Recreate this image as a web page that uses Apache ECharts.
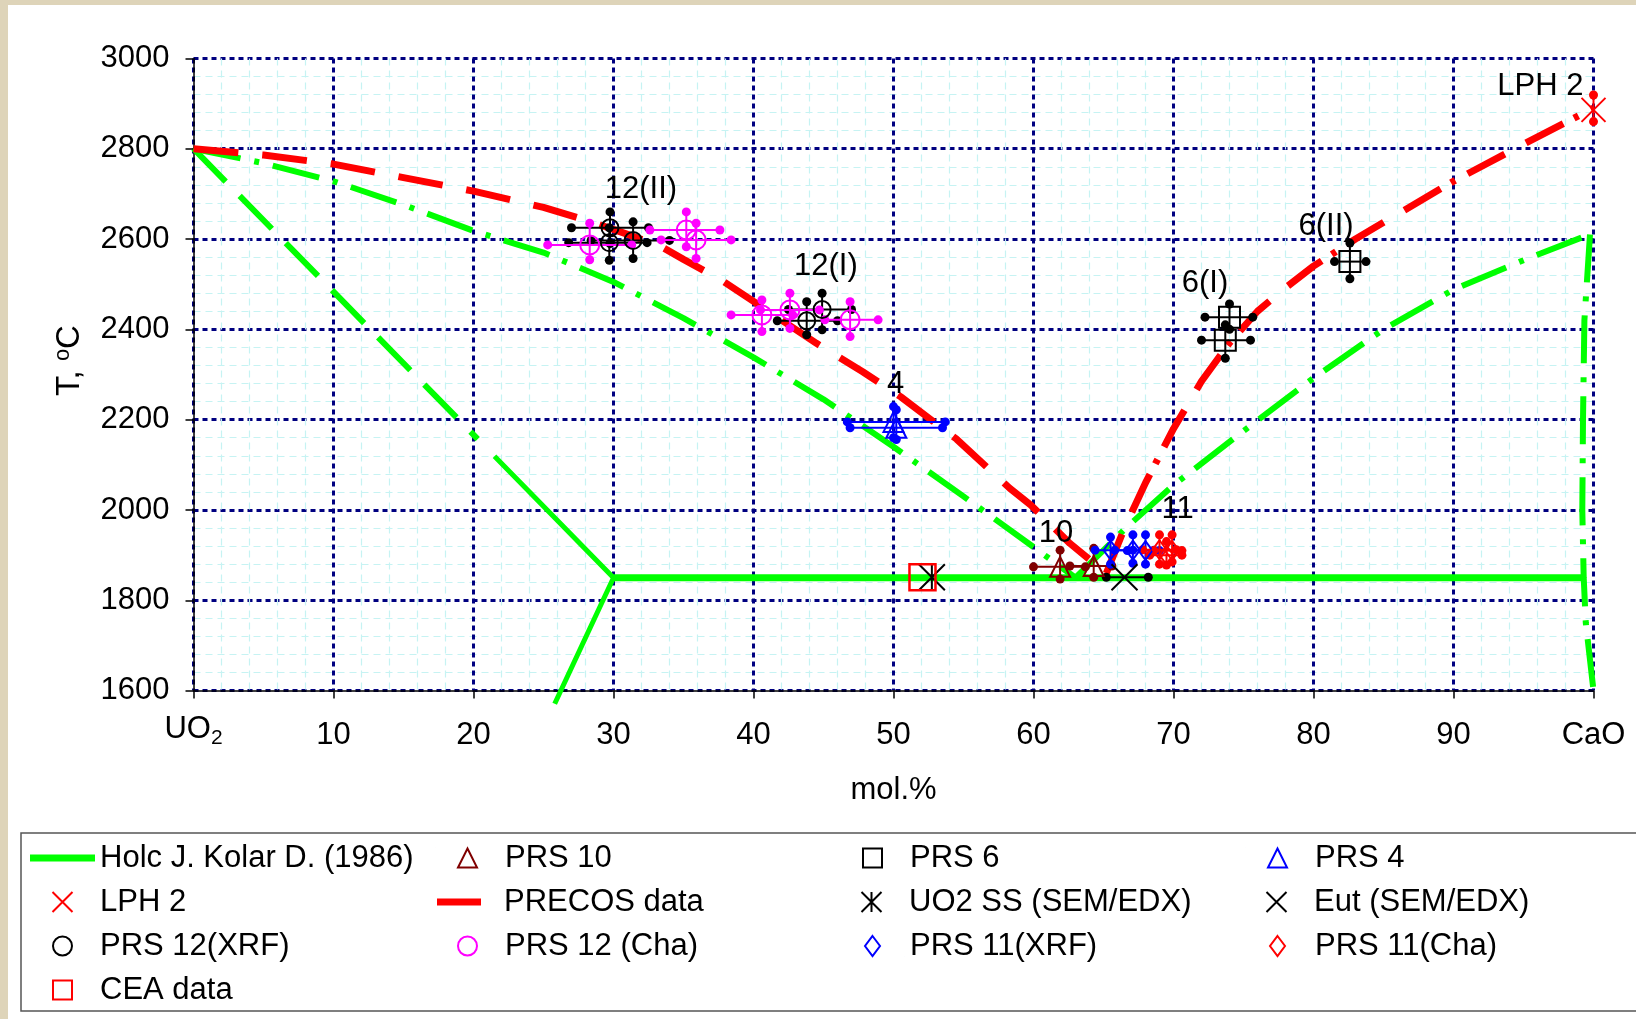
<!DOCTYPE html>
<html><head><meta charset="utf-8">
<script src="https://cdn.jsdelivr.net/npm/echarts@6/dist/echarts.min.js"></script>
<style>html,body{margin:0;padding:0;background:#fff}#c{width:1636px;height:1019px}</style>
</head><body><div id="c"></div><script>
// ---------- tick labels ----------
const xTickValues = [0,10,20,30,40,50,60,70,80,90,100];
const xTickLabels = ['{m|UO}{s|2}','10','20','30','40','50','60','70','80','90','CaO'];

// ---------- Holc J. Kolar D. (1986) green lines [x, T] ----------
const holcEutectic = [[30,1850],[99.2,1850]];
const holcSolidusDashed = [[0,2800],[20.3,2157]];
const holcSolidusSolid = [[21.5,2119],[30,1850],[25.8,1571]];
const holcLiquidusLeft = [[0,2800],[5,2768],[10,2728],[15,2676],[20,2618],[25,2570],[30,2505],[35,2425],[40,2338],[45,2245],[50,2140],[55,2030],[60,1918],[63,1850]];
const holcLiquidusRight = [[63,1850],[66.7,1963],[70,2055],[75,2175],[80,2292],[85,2400],[90,2488],[95,2553],[99.7,2610]];
const holcCaO = [[99.75,2610],[99.35,2420],[99.25,2200],[99.2,2000],[99.3,1850],[99.45,1750],[100,1600]];

// ---------- PRECOS data red lines [x, T] ----------
const precosLeft = [[0,2800],[5,2786],[10,2766],[15,2736],[20,2706],[25,2670],[28,2642],[30.3,2618],[33.3,2585],[35,2555],[37.7,2509],[40,2462],[44.5,2369],[47.8,2306],[50.5,2251],[54.5,2157],[58.3,2048],[59.8,2011],[62.6,1926],[65.2,1860]];
const precosRight = [[65.2,1860],[66.5,1960],[68,2060],[70,2180],[72,2285],[74,2370],[76,2440],[78,2492],[80,2540],[83,2600],[86,2655],[90,2728],[95,2810],[100,2890]];

// ---------- points: [x, T, xLow, xHigh, TLow, THigh] ----------
const prs10 = [[61.9,1874,60.0,63.7,1847,1911],[64.3,1876,62.6,65.6,1851,1915]];
const prs6 = [[74.0,2427,72.25,75.66,2400,2456],[73.7,2376,72.0,75.5,2336,2410],[82.6,2550,81.5,83.75,2512,2591]];
const prs4 = [[50.0,2195,46.7,53.7,2160,2229],[50.2,2182,46.9,53.5,2156,2222]];
const lph2 = [[100,2886,100,100,2860,2919]];
const uo2ss = [[52.74,1851,52.74,52.74,1851,1851]];
const eut = [[66.5,1851,65.2,68.2,1851,1851]];
const prs12xrf = [[29.75,2625,27.0,32.5,2590,2660],[29.7,2592,26.8,32.4,2553,2625],[31.4,2597,28.4,34.0,2557,2638],[43.8,2419,41.7,46.0,2388,2461],[44.9,2444,42.5,47.0,2399,2480]];
const prs12cha = [[28.3,2587,25.3,31.3,2554,2635],[35.2,2620,32.6,37.6,2583,2660],[35.9,2598,33.4,38.4,2557,2635],[40.6,2432,38.4,42.8,2395,2465],[42.6,2443,40.5,44.7,2402,2480],[46.9,2421,45.1,48.9,2384,2461]];
const prs11xrf = [[65.5,1911,64.4,67.1,1880,1940],[67.1,1911,65.8,68.6,1882,1945],[68.0,1910,66.7,69.0,1880,1945]];
const prs11cha = [[69.0,1912,67.8,70.2,1880,1945],[69.5,1900,68.3,70.6,1878,1930],[69.9,1910,68.6,70.6,1885,1945]];
const cea = [[52.07,1851,52.07,52.07,1851,1851]];

// ---------- text labels ----------
const labelText = ['12(II)','12(I)','4','10','11','6(I)','6(II)','LPH 2'];
const labelX = [31.96,45.17,50.16,61.6,70.3,72.25,80.9,96.2];
const labelT = [2710,2539,2279,1949,2002,2502,2627,2937];

// ---------- styles ----------
const FONT = 'Liberation Sans, Arial, sans-serif';
const GREEN = '#00ff00', RED = '#ff0000', BROWN = '#800000', BLUE = '#0000ff', MAG = '#ff00ff', BLACK = '#000000';
const DASH_DOT = [48,14,5,14];
const X_PATH = 'path://M0,0L20,20M20,0L0,20';
const STAR_PATH = 'path://M0,0L20,20M20,0L0,20M10,0L10,20';

// legend icons: every icon spans the full 65x21 box (corner anchors) so columns line up
const BOX = 'M0,0L0.01,0M65,21L64.99,21';
const IC = {
  lineG: 'path://' + BOX + 'M0,7H65V14H0Z',
  lineR: 'path://' + BOX + 'M3,7H47V14H3Z',
  tri: 'path://' + BOX + 'M32.5,1L42,20L23,20Z',
  sq: 'path://' + BOX + 'M23,1H42V20H23Z',
  dia: 'path://' + BOX + 'M32.5,0.5L40,10.5L32.5,20.5L25,10.5Z',
  x: 'path://' + BOX + 'M22.5,0.5L42.5,20.5M42.5,0.5L22.5,20.5',
  star: 'path://' + BOX + 'M22.5,0.5L42.5,20.5M42.5,0.5L22.5,20.5M32.5,0.5L32.5,20.5',
  circ: 'path://' + BOX + 'M42,10.5A9.5,9.5,0,1,1,23,10.5A9.5,9.5,0,1,1,42,10.5Z'
};

function lineSeries(name, data, color, width, type, extra) {
  return Object.assign({
    type: 'line', name: name, data: data, symbol: 'none', showSymbol: false,
    lineStyle: {color: color, width: width, type: type, cap: 'butt'},
    itemStyle: {color: color}, silent: true, z: 2
  }, extra || {});
}
function errRender(color) {
  return function (params, api) {
    const x = api.value(0), y = api.value(1);
    const xlo = api.value(2), xhi = api.value(3), ylo = api.value(4), yhi = api.value(5);
    const ch = [];
    const st = {stroke: color, lineWidth: 2};
    const dot = function (p) { return {type: 'circle', shape: {cx: p[0], cy: p[1], r: 4.5}, style: {fill: color}}; };
    if (xlo !== xhi) {
      const a = api.coord([xlo, y]), b = api.coord([xhi, y]);
      ch.push({type: 'line', shape: {x1: a[0], y1: a[1], x2: b[0], y2: b[1]}, style: st});
      ch.push(dot(a), dot(b));
    }
    if (ylo !== yhi) {
      const a = api.coord([x, ylo]), b = api.coord([x, yhi]);
      ch.push({type: 'line', shape: {x1: a[0], y1: a[1], x2: b[0], y2: b[1]}, style: st});
      ch.push(dot(a), dot(b));
    }
    return {type: 'group', children: ch};
  };
}
function errSeries(name, data, color) {
  return {type: 'custom', name: name + ' err', data: data, renderItem: errRender(color),
    dimensions: ['x','T','xlo','xhi','tlo','thi'], encode: {x: 0, y: 1}, silent: true, z: 4, clip: false};
}
function markSeries(name, data, symbol, size, color, bw) {
  return {type: 'scatter', name: name, data: data.map(function (r) { return [r[0], r[1]]; }),
    symbol: symbol, symbolSize: size, silent: true, z: 5, clip: false,
    itemStyle: {color: 'rgba(255,255,255,0)', borderColor: color, borderWidth: bw, opacity: 1}};
}

const HOLC = 'Holc J. Kolar D. (1986)';
const series = [
  lineSeries(HOLC, holcEutectic, GREEN, 7, 'solid'),
  lineSeries(HOLC, holcSolidusSolid, GREEN, 5, 'solid', {clip: false}),
  lineSeries(HOLC, holcSolidusDashed, GREEN, 6, [46,20]),
  lineSeries(HOLC, holcLiquidusLeft, GREEN, 6, DASH_DOT),
  lineSeries(HOLC, holcLiquidusRight, GREEN, 6, DASH_DOT),
  lineSeries(HOLC, holcCaO, GREEN, 6, DASH_DOT, {clip: false}),
  lineSeries('PRECOS data', precosLeft, RED, 7, [45,24], {z: 3}),
  lineSeries('PRECOS data', precosRight, RED, 7, [42,24,42,12,5,14], {z: 3, clip: false}),
  errSeries('PRS 10', prs10, BROWN),
  errSeries('PRS 6', prs6, BLACK),
  errSeries('PRS 4', prs4, BLUE),
  errSeries('LPH 2', lph2, RED),
  errSeries('Eut (SEM/EDX)', eut, BLACK),
  errSeries('PRS 12(XRF)', prs12xrf, BLACK),
  errSeries('PRS 12 (Cha)', prs12cha, MAG),
  errSeries('PRS 11(XRF)', prs11xrf, BLUE),
  errSeries('PRS 11(Cha)', prs11cha, RED),
  markSeries('PRS 10', prs10, 'triangle', 20, BROWN, 2),
  markSeries('PRS 6', prs6, 'rect', 21, BLACK, 2),
  markSeries('PRS 4', prs4, 'triangle', 20, BLUE, 2),
  markSeries('LPH 2', lph2, X_PATH, 24, RED, 2),
  markSeries('UO2 SS (SEM/EDX)', uo2ss, STAR_PATH, 26, BLACK, 2),
  markSeries('Eut (SEM/EDX)', eut, X_PATH, 26, BLACK, 2),
  markSeries('PRS 12(XRF)', prs12xrf, 'circle', 17, BLACK, 2),
  markSeries('PRS 12 (Cha)', prs12cha, 'circle', 19, MAG, 2),
  markSeries('PRS 11(XRF)', prs11xrf, 'diamond', [14,19], BLUE, 2),
  markSeries('PRS 11(Cha)', prs11cha, 'diamond', [14,19], RED, 2),
  markSeries('CEA data', cea, 'rect', 26, RED, 2.5),
  {type: 'scatter', name: 'labels', silent: true, z: 6, clip: false,
   data: labelX.map(function (x, i) { return [x, labelT[i]]; }),
   symbolSize: 1, itemStyle: {color: 'rgba(0,0,0,0)'},
   label: {show: true, position: 'inside', color: '#000000', opacity: 1, textBorderWidth: 0,
     fontSize: 31, fontFamily: FONT,
     formatter: function (p) { return labelText[p.dataIndex]; }}}
];

const legendData = [
  {name: HOLC, icon: IC.lineG},
  {name: 'PRS 10', icon: IC.tri},
  {name: 'PRS 6', icon: IC.sq},
  {name: 'PRS 4', icon: IC.tri},
  {name: 'LPH 2', icon: IC.x},
  {name: 'PRECOS data', icon: IC.lineR},
  {name: 'UO2 SS (SEM/EDX)', icon: IC.star},
  {name: 'Eut (SEM/EDX)', icon: IC.x},
  {name: 'PRS 12(XRF)', icon: IC.circ},
  {name: 'PRS 12 (Cha)', icon: IC.circ},
  {name: 'PRS 11(XRF)', icon: IC.dia},
  {name: 'PRS 11(Cha)', icon: IC.dia},
  {name: 'CEA data', icon: IC.sq}
];

const chart = echarts.init(document.getElementById('c'), null, {renderer: 'canvas'});
chart.setOption({
  animation: false,
  backgroundColor: '#ffffff',
  textStyle: {fontFamily: FONT},
  graphic: [
    {type: 'rect', shape: {x: 0, y: 0, width: 1636, height: 5}, style: {fill: '#ded4b9'}, z: 100},
    {type: 'rect', shape: {x: 0, y: 0, width: 8, height: 1019}, style: {fill: '#ded4b9'}, z: 100}
  ],
  grid: {left: 193.5, right: 42.5, top: 58.4, bottom: 328.4, containLabel: false},
  xAxis: {
    type: 'value', min: 0, max: 100, interval: 10,
    name: 'mol.%', nameLocation: 'middle', nameGap: 84,
    nameTextStyle: {fontSize: 31, color: '#000', fontFamily: FONT},
    axisLine: {show: true, onZero: false, lineStyle: {color: '#000', width: 1.5}},
    axisTick: {show: true, length: 8, lineStyle: {color: '#000', width: 1.5}},
    axisLabel: {color: '#000', fontSize: 31, fontFamily: FONT, margin: 45, verticalAlign: 'middle',
      formatter: function (v) { const i = xTickValues.indexOf(v); return i >= 0 ? xTickLabels[i] : ''; },
      rich: {m: {fontSize: 31, fontFamily: FONT, color: '#000', padding: [0,0,12,0]},
             s: {fontSize: 21, fontFamily: FONT, color: '#000', padding: [6,0,0,0]}}},
    splitLine: {show: true, lineStyle: {color: '#000080', width: 3, type: [5,4]}},
    minorTick: {show: false, splitNumber: 5},
    minorSplitLine: {show: true, lineStyle: {color: '#c6f3f3', width: 1.2, type: [7,5]}}
  },
  yAxis: {
    type: 'value', min: 1600, max: 3000, interval: 200,
    name: 'T, {s|o}C', nameLocation: 'middle', nameGap: 106,
    nameTextStyle: {fontSize: 33, color: '#000', fontFamily: FONT, padding: [0,0,0,28],
      rich: {s: {fontSize: 22, fontFamily: FONT, color: '#000', padding: [0,0,14,0]}}},
    axisLine: {show: true, onZero: false, lineStyle: {color: '#000', width: 1.5}},
    axisTick: {show: true, length: 8, lineStyle: {color: '#000', width: 1.5}},
    axisLabel: {color: '#000', fontSize: 31, fontFamily: FONT, margin: 24,
      formatter: function (v) { return String(v); }},
    splitLine: {show: true, lineStyle: {color: '#000080', width: 3, type: [5,4]}},
    minorTick: {show: false, splitNumber: 5},
    minorSplitLine: {show: true, lineStyle: {color: '#c6f3f3', width: 1.2, type: [7,5]}}
  },
  legend: {
    left: 21, top: 833, width: 1610, orient: 'horizontal',
    padding: [8, 8, 4, 8],
    itemWidth: 65, itemHeight: 21, itemGap: 10,
    symbolKeepAspect: true,
    borderColor: '#555', borderWidth: 1.5, backgroundColor: '#fff',
    textStyle: {fontSize: 31, color: '#000', fontFamily: FONT, width: 324, lineHeight: 34},
    data: legendData
  },
  series: series
});
</script></body></html>
